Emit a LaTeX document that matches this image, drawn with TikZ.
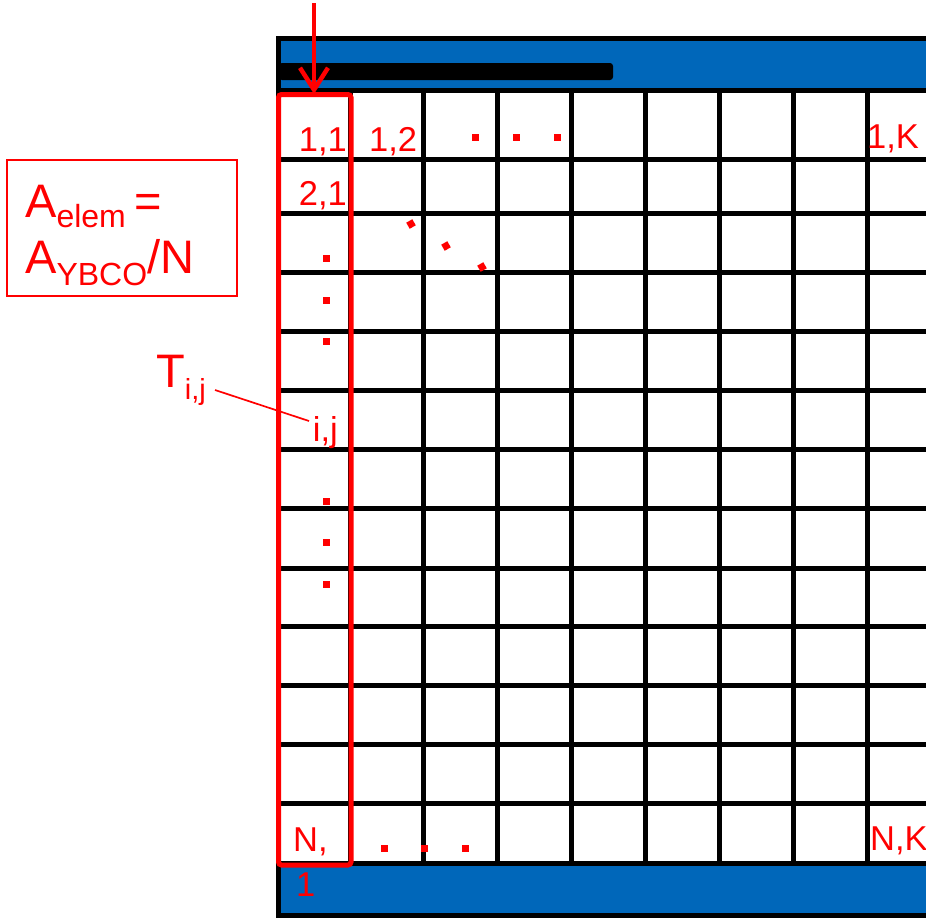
\documentclass[tikz,border=0pt]{standalone}
\usepackage{fontspec}
\setmainfont{Liberation Sans}
\usetikzlibrary{arrows.meta}
\definecolor{bandblue}{RGB}{0,103,186}
\begin{document}
\begin{tikzpicture}[x=1pt,y=-1pt,
  gridline/.style={line width=5pt,black},
  lbl/.style={text=red,inner sep=0pt,font=\fontsize{34.5}{38}\selectfont},
  biglbl/.style={text=red,inner sep=0pt,font=\fontsize{47}{50}\selectfont},
  dotmark/.style={fill=red,minimum size=7pt,inner sep=0pt,rectangle},
  redframe/.style={draw=red,line width=5pt,rounded corners=3pt},
  thinred/.style={draw=red,line width=1.7pt}]
\useasboundingbox (0,0) rectangle (926,918);
\clip (0,0) rectangle (926,918);
% bands
\fill[bandblue] (278,38) rectangle (940,90);
\fill[bandblue] (278,863) rectangle (940,915);
% black bar
\fill[black,rounded corners=3pt] (279,63) rectangle (613,80);
% grid
\foreach \yy in {90.5,159,213,272,331,390,449,508,568,626,685,744,803,863}
  \draw[gridline] (278,\yy) -- (940,\yy);
\foreach \xx in {350,423,497,571,645,719,793,867}
  \draw[gridline] (\xx,90.5) -- (\xx,863);
% outer border
\draw[gridline] (940,38.5) -- (278.5,38.5) -- (278.5,915.5) -- (940,915.5);
% red column frame
\node[redframe,minimum width=72.5pt,minimum height=770.5pt,inner sep=0pt] (col) at (314.75,479.75) {};
% arrow
\coordinate (arrtop) at (314,3);
\coordinate (arrtip) at (314,94);
\draw[red,line width=4.5pt,-{Straight Barb[length=22pt,width=28pt]}] (arrtop) -- (arrtip);
% cell labels
\node[lbl,anchor=base east] (c11) at (347,151) {1,1};
\node[lbl,anchor=base east] (c21) at (347,205) {2,1};
\node[lbl,anchor=base west] (c12) at (369,151) {1,2};
\node[lbl,anchor=base west] (c1K) at (867,148) {1,K};
\node[lbl,anchor=base east] (cij) at (338,441) {i,j};
\node[lbl,anchor=base west] (cN) at (293,851) {N,};
\node[lbl,anchor=base west] (cN1) at (296,896) {1};
\node[lbl,anchor=base west] (cNK) at (870,850) {N,K};
% dots
\foreach \n/\xx/\yy in {a/475/137,b/516/137,c/557/137,
  d/326/258,e/326/300,f/326/341,g/326/501,h/326/542,i/326/584,
  j/384/848,k/424/848,l/465/848}
  \node[dotmark] (dot\n) at (\xx,\yy) {};
\foreach \n/\xx/\yy in {m/411/224,n/446/246,o/482/267}
  \node[dotmark,rotate=30] (dot\n) at (\xx,\yy) {};
% area box
\node[thinred,minimum width=230pt,minimum height=136pt,inner sep=0pt] (abox) at (122,228) {};
\node[biglbl,anchor=base west] (aelem) at (25,217) {A\raisebox{-10pt}{\fontsize{32}{32}\selectfont elem }=};
\node[biglbl,anchor=base west] (aybco) at (25,273) {A\raisebox{-12pt}{\fontsize{32}{32}\selectfont YBCO}/N};
% T label
\node[biglbl,anchor=base west] (tij) at (156,387) {T\raisebox{-12pt}{\fontsize{29}{29}\selectfont i,j}};
\coordinate (tstart) at (215,390);
\coordinate (tend) at (309,421);
\draw[thinred] (tstart) -- (tend);
\end{tikzpicture}
\end{document}
